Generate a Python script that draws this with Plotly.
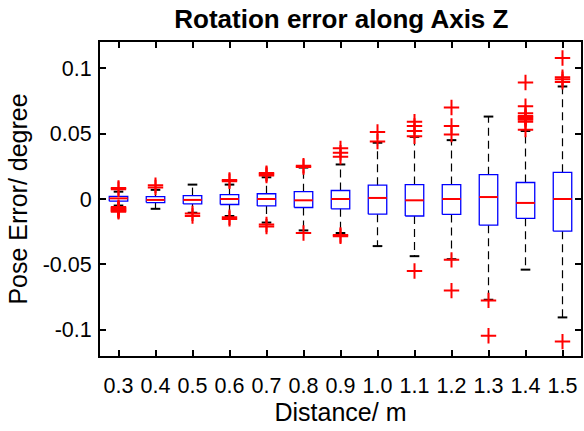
import plotly.graph_objects as go

labels = ["0.3", "0.4", "0.5", "0.6", "0.7", "0.8", "0.9", "1.0", "1.1", "1.2", "1.3", "1.4", "1.5"]
medians = [0.0005, -0.0007, -0.0007, 0.0, 0.0, -0.001, 0.0, 0.0008, -0.001, 0.0, 0.0015, -0.003, 0.0]
q1 = [-0.0017, -0.0027, -0.0038, -0.0042, -0.0053, -0.0065, -0.0075, -0.0116, -0.013, -0.0118, -0.020, -0.0148, -0.0246]
q3 = [0.002, 0.0018, 0.0026, 0.0033, 0.004, 0.0056, 0.0065, 0.0106, 0.011, 0.011, 0.0186, 0.0126, 0.0204]
lower_whisker = [-0.005, -0.0075, -0.0105, -0.013, -0.018, -0.024, -0.026, -0.036, -0.0437, -0.046, -0.077, -0.054, -0.0905]
upper_whisker = [0.0056, 0.007, 0.011, 0.011, 0.0166, 0.024, 0.0264, 0.043, 0.0475, 0.045, 0.063, 0.052, 0.086]
outliers = [
    [0.0075, 0.0085, -0.0062, -0.0068, -0.0074, -0.008, -0.0086, -0.0092, -0.0098],
    [0.0088, 0.0105],
    [-0.011, -0.013],
    [0.0136, 0.0146, -0.014, -0.0152],
    [0.018, 0.019, 0.0198, -0.0195, -0.021],
    [0.0245, 0.0255, -0.026],
    [0.0322, 0.0354, 0.0387, -0.0275, -0.0285],
    [0.044, 0.0513],
    [0.048, 0.052, 0.0558, 0.059, -0.055],
    [0.0493, 0.0558, 0.0699, -0.0465, -0.070],
    [-0.0775, -0.1045],
    [0.053, 0.059, 0.0605, 0.0615, 0.0625, 0.0635, 0.0656, 0.0709, 0.089],
    [0.0895, 0.0915, 0.093, 0.1078, -0.109],
]

positions = list(range(1, len(labels) + 1))
half_box = 0.25
half_cap = 0.13

wx, wy, cx, cy, bx, by, mx, my, ox, oy = [], [], [], [], [], [], [], [], [], []
for p, lo, a, m, b, hi, outs in zip(positions, lower_whisker, q1, medians, q3, upper_whisker, outliers):
    wx += [p, p, None, p, p, None]
    wy += [b, hi, None, a, lo, None]
    cx += [p - half_cap, p + half_cap, None, p - half_cap, p + half_cap, None]
    cy += [hi, hi, None, lo, lo, None]
    bx += [p - half_box, p + half_box, p + half_box, p - half_box, p - half_box, None]
    by += [a, a, b, b, a, None]
    mx += [p - half_box, p + half_box, None]
    my += [m, m, None]
    ox += [p] * len(outs)
    oy += outs

fig = go.Figure()
fig.add_trace(go.Scatter(x=wx, y=wy, mode="lines", line=dict(color="#000000", width=1.2, dash="8px,5px"),
                         hoverinfo="skip", showlegend=False))
fig.add_trace(go.Scatter(x=cx, y=cy, mode="lines", line=dict(color="#000000", width=2),
                         hoverinfo="skip", showlegend=False))
fig.add_trace(go.Scatter(x=bx, y=by, mode="lines", line=dict(color="#0000FF", width=1.3),
                         hoverinfo="skip", showlegend=False))
fig.add_trace(go.Scatter(x=mx, y=my, mode="lines", line=dict(color="#FF0000", width=2),
                         hoverinfo="skip", showlegend=False))
fig.add_trace(go.Scatter(x=ox, y=oy, mode="markers",
                         marker=dict(symbol="cross-thin", size=11, line=dict(color="#FF0000", width=2)),
                         hoverinfo="skip", showlegend=False))

font_family = "Liberation Sans, Arial, sans-serif"
fig.update_layout(
    width=584, height=431,
    margin=dict(l=100, r=1, t=42, b=75),
    paper_bgcolor="white", plot_bgcolor="white",
    font=dict(family=font_family, color="black", size=21),
    title=dict(text="<b>Rotation error along Axis Z</b>", x=0.5845, xanchor="center",
               y=0.956, yanchor="middle", font=dict(size=26, family=font_family, color="black")),
    showlegend=False,
)
fig.update_xaxes(
    range=[0.5, 13.5], tickvals=positions, ticktext=labels,
    showline=True, linecolor="black", linewidth=2, mirror="ticks",
    ticks="inside", ticklen=6, tickwidth=2, tickcolor="black",
    showgrid=False, zeroline=False, tickfont=dict(size=21.5),
    ticklabelstandoff=9,
    title=dict(text="Distance/ m", font=dict(size=25), standoff=5),
)
fig.update_yaxes(
    range=[-0.12, 0.12], tickvals=[-0.1, -0.05, 0, 0.05, 0.1],
    ticktext=["-0.1", "-0.05", "0", "0.05", "0.1"],
    showline=True, linecolor="black", linewidth=2, mirror="ticks",
    ticks="inside", ticklen=6, tickwidth=2, tickcolor="black",
    showgrid=False, zeroline=False, tickfont=dict(size=21.5),
    ticklabelstandoff=2,
    title=dict(text="Pose Error/ degree", font=dict(size=25), standoff=8),
)

fig.write_html("out.html")
